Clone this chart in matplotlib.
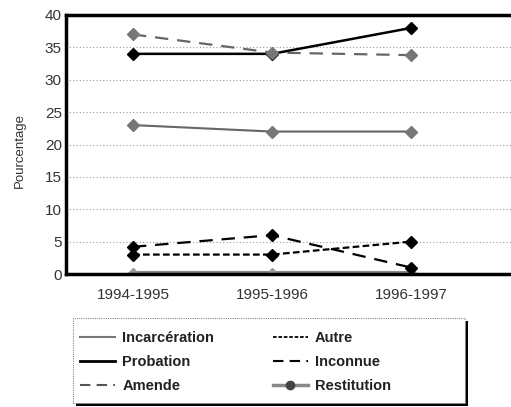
import matplotlib
matplotlib.use("Agg")
from matplotlib import pyplot as plt
from matplotlib.patches import Rectangle

plt.rcParams['font.family'] = ['Liberation Sans Narrow', 'Liberation Sans', 'DejaVu Sans']

periodes = ["1994-1995", "1995-1996", "1996-1997"]
incarceration = [23, 22, 22]
probation = [34, 34, 38]
amende = [37, 34.2, 33.8]
autre = [3, 3, 5]
inconnue = [4.2, 6, 1]
restitution = [0.2, 0.2, 0.2]

x = list(range(len(periodes)))

W, H = 511, 407
fig = plt.figure(figsize=(W / 100, H / 100), dpi=100)
# plot area runs off the right edge of the picture, as in the reference
aw = W - 66
ax = fig.add_axes([66 / W, 1 - 274 / H, aw / W, 259 / H])

ax.plot(x, restitution, color='#888888', lw=3, marker='D', ms=5, mfc='#999999', mec='#999999', zorder=2)
ax.plot(x, incarceration, color='#666666', lw=1.5, marker='D', ms=6, mfc='#777777', mec='#777777', zorder=3)
ax.plot(x, probation, color='black', lw=1.8, marker='D', ms=6, mfc='black', mec='black', zorder=3)
ax.plot(x, amende, color='#666666', lw=1.6, ls=(0, (6, 4)), marker='D', ms=6, mfc='#777777', mec='#777777', zorder=3)
ax.plot(x, autre, color='black', lw=1.6, ls=(0, (3, 1.5)), marker='D', ms=6, mfc='black', mec='black', zorder=3)
ax.plot(x, inconnue, color='black', lw=1.6, ls=(0, (6, 4)), marker='D', ms=6, mfc='black', mec='black', zorder=3)

# 139 px between categories, first category 67 px from the left spine
ax.set_xlim(-67 / 139, -67 / 139 + aw / 139)
ax.set_ylim(0, 40)
ax.set_yticks(range(0, 41, 5))
ax.set_xticks(x)
ax.set_xticklabels(periodes)
ax.tick_params(axis='y', labelsize=11, colors='#333333', length=0, pad=3)
ax.tick_params(axis='x', labelsize=11, colors='#333333', length=0, pad=10)
ax.yaxis.grid(True, ls=(0, (1, 2)), color='#999999', lw=0.8)
for s in ax.spines.values():
    s.set_linewidth(2.5)
    s.set_color('black')
ax.spines['right'].set_visible(False)
ax.set_ylabel('Pourcentage', fontsize=9.5, color='#333333', va='center')
ax.yaxis.set_label_coords(20 / W, 1 - 150 / H, transform=fig.transFigure)

# legend box with shadow
x0, x1 = 73 / W, 465 / W
y0, y1 = 1 - 403 / H, 1 - 318 / H
fig.patches.append(Rectangle((x0 + 3 / W, y0 - 3 / H), x1 - x0, y1 - y0, transform=fig.transFigure,
                             facecolor='black', edgecolor='none', zorder=1))
fig.patches.append(Rectangle((x0, y0), x1 - x0, y1 - y0, transform=fig.transFigure,
                             facecolor='white', edgecolor='#888888', lw=0.8, ls=(0, (1, 1)), zorder=2))

labels = ['Incarcération', 'Probation', 'Amende', 'Autre', 'Inconnue', 'Restitution']
handles = [
    plt.Line2D([], [], color='#777777', lw=1.5),
    plt.Line2D([], [], color='black', lw=2),
    plt.Line2D([], [], color='#555555', lw=1.5, ls=(0, (5, 3))),
    plt.Line2D([], [], color='black', lw=1.3, ls=(0, (2, 1))),
    plt.Line2D([], [], color='black', lw=1.5, ls=(0, (5, 3))),
    plt.Line2D([], [], color='#888888', lw=2.5, marker='o', ms=6, mfc='#444444', mec='#444444'),
]
leg = fig.legend(handles, labels, loc='upper left', bbox_to_anchor=(80 / W, 1 - 331 / H),
                 ncol=2, fontsize=10.5, frameon=False, borderpad=0, borderaxespad=0,
                 handlelength=2.4, handletextpad=0.5, labelspacing=0.7, columnspacing=4.0)
leg.set_zorder(5)
for t in leg.get_texts():
    t.set_fontweight('bold')
    t.set_color('#222222')

fig.savefig('out.png', dpi=100)
